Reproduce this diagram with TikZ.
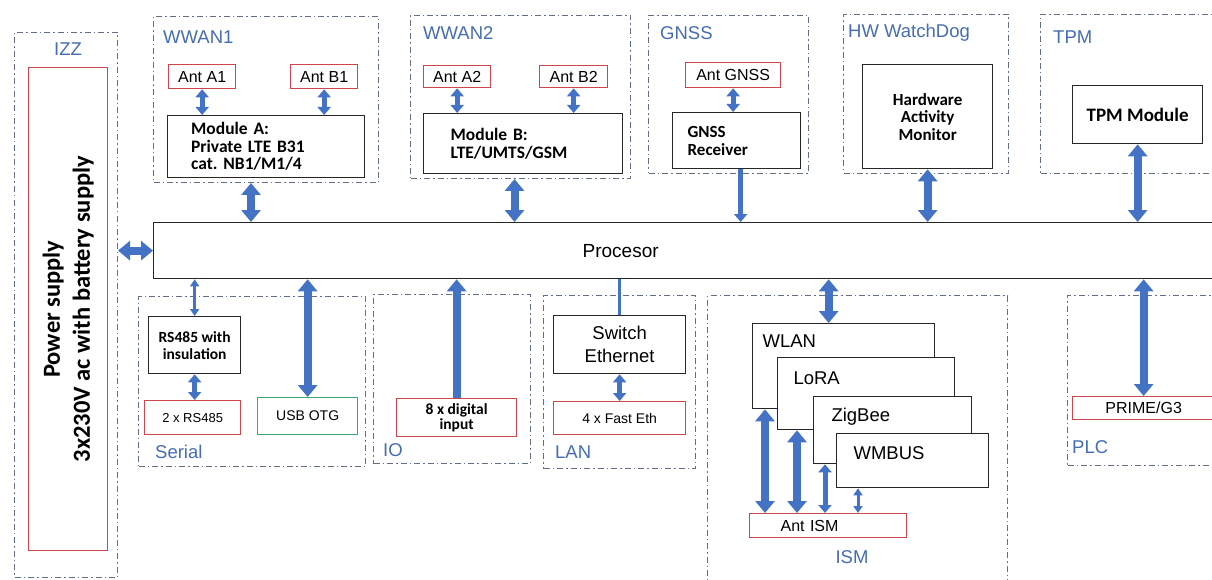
\documentclass[tikz,border=0pt]{standalone}
\usepackage{fontspec}
\setmainfont{Liberation Sans}
\newfontfamily\calib{Carlito}
\usetikzlibrary{arrows.meta}
\definecolor{arrblue}{RGB}{68,114,196}
\definecolor{grpblue}{RGB}{70,108,178}
\definecolor{grpline}{RGB}{100,112,135}
\definecolor{antred}{RGB}{205,70,78}
\definecolor{usbgreen}{RGB}{64,166,110}
\newcommand{\sansfs}[2]{\fontsize{#1}{#2}\selectfont}
\newcommand{\calfs}[2]{\calib\bfseries\fontsize{#1}{#2}\selectfont}

\begin{document}
\begin{tikzpicture}[x=1pt,y=-1pt,
  grp/.style={draw=grpline,line width=1pt,dash pattern=on 6pt off 3pt on 1.5pt off 3pt,anchor=north west,inner sep=0pt},
  grplbl/.style={text=grpblue,font=\sansfs{18.5}{21},anchor=west,inner sep=0pt},
  blk/.style={draw=black!85,line width=1.3pt,fill=white,anchor=north west,inner sep=0pt},
  redbox/.style={draw=antred,line width=1.3pt,fill=white,anchor=north west,inner sep=0pt},
  antbox/.style={redbox,font=\sansfs{16}{19}},
  bigarr/.style={draw=arrblue,line width=8pt,>={Triangle[length=12pt,width=19pt]}},
  midarr/.style={draw=arrblue,line width=5pt,>={Triangle[length=8pt,width=13pt]}},
  thinarr/.style={draw=arrblue,line width=3pt,>={Triangle[length=7pt,width=9pt]}}]
\useasboundingbox (0,0) rectangle (1212,580);
\clip (0,0) rectangle (1212,580);

\node[grp,minimum width=103pt,minimum height=545pt] (gIZZ) at (14,32) {};
\node[grp,minimum width=225pt,minimum height=166pt] (gWWAN1) at (153,16) {};
\node[grp,minimum width=220pt,minimum height=163pt] (gWWAN2) at (410,15) {};
\node[grp,minimum width=160pt,minimum height=158pt] (gGNSS) at (648,15) {};
\node[grp,minimum width=165pt,minimum height=159pt] (gHWWD) at (843,14) {};
\node[grp,minimum width=200pt,minimum height=159pt] (gTPM) at (1040,14) {};
\node[grp,minimum width=227pt,minimum height=170pt] (gSerial) at (138,296) {};
\node[grp,minimum width=157pt,minimum height=169pt] (gIO) at (373,294) {};
\node[grp,minimum width=152pt,minimum height=173pt] (gLAN) at (543,295) {};
\node[grp,minimum width=300pt,minimum height=300pt] (gISM) at (707,295) {};
\node[grp,minimum width=180pt,minimum height=170pt] (gPLC) at (1067,295) {};

\node[grplbl,anchor=center] (lIZZ) at (68,49) {IZZ};
\node[grplbl] (lWWAN1) at (163,37) {WWAN1};
\node[grplbl] (lWWAN2) at (423,33) {WWAN2};
\node[grplbl] (lGNSS) at (660,33) {GNSS};
\node[grplbl] (lHWWD) at (848,33) {HW WatchDog};
\node[grplbl] (lTPM) at (1053,37) {TPM};
\node[grplbl] (lSerial) at (155,452) {Serial};
\node[grplbl] (lIO) at (383,450) {IO};
\node[grplbl] (lLAN) at (555,452) {LAN};
\node[grplbl,anchor=center] (lISM) at (852,557) {ISM};
\node[grplbl] (lPLC) at (1072,447) {PLC};

\node[redbox,minimum width=79pt,minimum height=483pt] (psu) at (28,67) {};
\node[rotate=90,align=center,font=\calfs{24.5}{30}] (psuT) at (psu.center) {Power supply\\3x230V ac with battery supply};

\node[antbox,minimum width=67pt,minimum height=24pt] (antA1) at (168,64) {Ant A1};
\node[antbox,minimum width=67pt,minimum height=24pt] (antB1) at (290,64) {Ant B1};
\node[blk,minimum width=197pt,minimum height=62pt,text width=150pt,align=left,font=\calfs{17.5}{17.5}] (modA) at (167,115) {Module A:\\Private LTE B31\\cat.\ NB1/M1/4};

\node[antbox,minimum width=67pt,minimum height=22pt] (antA2) at (423,65) {Ant A2};
\node[antbox,minimum width=68pt,minimum height=22pt] (antB2) at (539,65) {Ant B2};
\node[blk,minimum width=199pt,minimum height=60pt,text width=145pt,align=left,font=\calfs{17.5}{18}] (modB) at (423,113) {Module B:\\LTE/UMTS/GSM};

\node[antbox,minimum width=95pt,minimum height=25pt] (antGNSS) at (685,62) {Ant GNSS};
\node[blk,minimum width=128pt,minimum height=56pt,text width=98pt,align=left,font=\calfs{17}{18}] (gnssRx) at (672,112) {GNSS\\Receiver};

\node[blk,minimum width=130pt,minimum height=104pt,align=center,font=\calfs{17}{17.5}] (ham) at (862,64) {Hardware\\Activity\\Monitor};
\node[blk,minimum width=130pt,minimum height=58pt,font=\calfs{19}{21}] (tpmMod) at (1072,85) {TPM Module};

\node[blk,minimum width=1080pt,minimum height=56pt] (proc) at (153,222) {};
\node[font=\sansfs{19}{22}] (procT) at ([xshift=-73pt]proc.center) {Procesor};

\node[blk,minimum width=92pt,minimum height=57pt,align=center,font=\calfs{15.5}{17}] (rs485) at (148,316) {RS485 with\\insulation};
\node[redbox,minimum width=96pt,minimum height=34pt,font=\sansfs{13}{15}] (rsPorts) at (144,400) {2 x RS485};
\node[redbox,draw=usbgreen,minimum width=100pt,minimum height=37pt,font=\sansfs{14}{16}] (usb) at (257,397) {USB OTG};

\node[redbox,minimum width=120pt,minimum height=38pt,align=center,font=\calfs{15.5}{15}] (dig) at (396,398) {8 x digital\\input};

\node[blk,minimum width=132pt,minimum height=58pt,align=center,font=\sansfs{18.5}{23}] (sw) at (553,315) {Switch\\Ethernet};
\node[redbox,minimum width=132pt,minimum height=33pt,font=\sansfs{14}{16}] (fastEth) at (553,401) {4 x Fast Eth};

\node[blk,minimum width=182pt,minimum height=85pt] (wlan) at (752,323) {};
\node[font=\sansfs{18.5}{21},anchor=west] (wlanT) at ([xshift=7pt,yshift=-18pt]wlan.north west) {WLAN};
\node[blk,minimum width=177pt,minimum height=72pt] (lora) at (777,357) {};
\node[font=\sansfs{18.5}{21},anchor=west] (loraT) at ([xshift=13pt,yshift=-21pt]lora.north west) {LoRA};
\node[blk,minimum width=158pt,minimum height=67pt] (zig) at (813,396) {};
\node[font=\sansfs{18.5}{21},anchor=west] (zigT) at ([xshift=15pt,yshift=-21pt]zig.north west) {ZigBee};
\node[blk,minimum width=152pt,minimum height=54pt] (wmbus) at (836,433) {};
\node[font=\sansfs{18.5}{21},anchor=west] (wmbusT) at ([xshift=14pt,yshift=-20pt]wmbus.north west) {WMBUS};
\node[redbox,minimum width=157pt,minimum height=24pt,text width=95pt,align=left,font=\sansfs{16}{19}] (antISM) at (749,513) {Ant ISM};

\node[redbox,minimum width=142pt,minimum height=23pt,font=\sansfs{16}{19}] (prime) at (1072,396) {PRIME/G3};

\coordinate (cModA) at ([xshift=-15pt]gWWAN1.south);
\coordinate (cModB) at ([xshift=-6pt]gWWAN2.south);
\coordinate (cGnss) at ([xshift=4pt]gnssRx.south);
\coordinate (cWlan) at ([xshift=-15pt]wlan.north);
\coordinate (cWlanAnt) at ([xshift=13pt]wlan.south west);
\coordinate (cLoraAnt) at ([xshift=20pt]lora.south west);
\coordinate (cZigAnt) at ([xshift=12pt]zig.south west);
\coordinate (cWmbusAnt) at ([xshift=22pt]wmbus.south west);

\draw[midarr,<->] (antA1.south) -- (antA1.south |- modA.north);
\draw[midarr,<->] (antB1.south) -- (antB1.south |- modA.north);
\draw[midarr,<->] (antA2.south) -- (antA2.south |- modB.north);
\draw[midarr,<->] (antB2.south) -- (antB2.south |- modB.north);
\draw[midarr,<->] (antGNSS.south) -- (antGNSS.south |- gnssRx.north);
\draw[bigarr,<->] (cModA) -- (cModA |- proc.north);
\draw[bigarr,<->] (cModB) -- (cModB |- proc.north);
\draw[midarr,->] (cGnss) -- (cGnss |- proc.north);
\draw[bigarr,<->] (ham.south) -- (ham.south |- proc.north);
\draw[bigarr,<->] (tpmMod.south) -- (tpmMod.south |- proc.north);
\draw[bigarr,<->] (proc.west) -- (proc.west -| gIZZ.east);
\draw[thinarr,<->] (rs485.north) -- (rs485.north |- proc.south);
\draw[midarr,<->] (rs485.south) -- (rs485.south |- rsPorts.north);
\draw[bigarr,<->] (usb.north) -- (usb.north |- proc.south);
\draw[bigarr,->] (dig.north) -- (dig.north |- proc.south);
\draw[draw=arrblue,line width=3pt] (sw.north) -- (sw.north |- proc.south);
\draw[midarr,<->] (sw.south) -- (fastEth.north);
\draw[bigarr,<->] (cWlan) -- (cWlan |- proc.south);
\draw[bigarr,<->] (cWlanAnt) -- (cWlanAnt |- antISM.north);
\draw[bigarr,<->] (cLoraAnt) -- (cLoraAnt |- antISM.north);
\draw[midarr,<->] (cZigAnt) -- (cZigAnt |- antISM.north);
\draw[thinarr,<->] (cWmbusAnt) -- (cWmbusAnt |- antISM.north);
\draw[bigarr,<->] (prime.north) -- (prime.north |- proc.south);
\end{tikzpicture}
\end{document}
